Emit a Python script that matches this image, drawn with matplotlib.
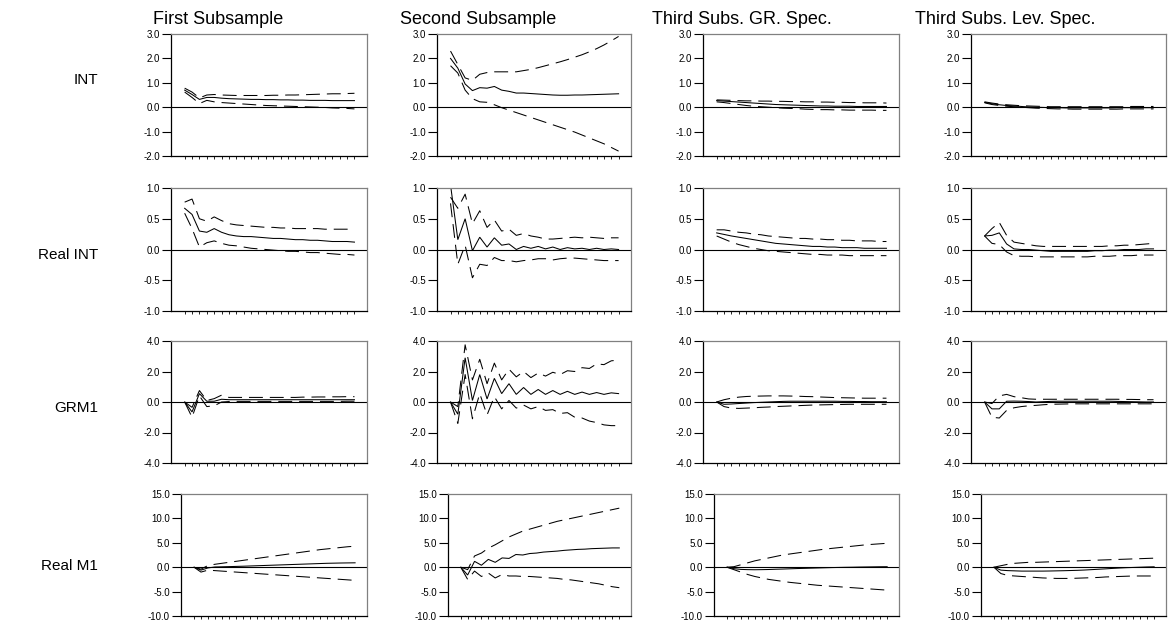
import matplotlib
matplotlib.use("Agg")
import matplotlib.pyplot as plt
import numpy as np

plt.rcParams['font.family'] = ['Liberation Sans', 'DejaVu Sans']
plt.rcParams['lines.scale_dashes'] = False

horizon = list(range(1, 25))
col_titles = ["First Subsample", "Second Subsample", "Third Subs. GR. Spec.", "Third Subs. Lev. Spec."]
row_labels = ["INT", "Real INT", "GRM1", "Real M1"]
row_yticks = [[-2.0, -1.0, 0.0, 1.0, 2.0, 3.0],
              [-1.0, -0.5, 0.0, 0.5, 1.0],
              [-4.0, -2.0, 0.0, 2.0, 4.0],
              [-10.0, -5.0, 0.0, 5.0, 10.0, 15.0]]

# ---- INT ----
int_first_mid = [0.70, 0.52, 0.32, 0.40, 0.40, 0.37, 0.35, 0.34, 0.33, 0.32, 0.32, 0.31, 0.31, 0.30, 0.30, 0.29, 0.29, 0.28, 0.28, 0.28, 0.27, 0.27, 0.27, 0.27]
int_first_up = [0.78, 0.62, 0.38, 0.50, 0.52, 0.50, 0.49, 0.48, 0.48, 0.48, 0.48, 0.48, 0.49, 0.49, 0.50, 0.50, 0.51, 0.52, 0.53, 0.54, 0.55, 0.55, 0.56, 0.57]
int_first_lo = [0.62, 0.40, 0.15, 0.28, 0.22, 0.19, 0.17, 0.15, 0.13, 0.11, 0.09, 0.07, 0.06, 0.05, 0.04, 0.03, 0.02, 0.01, 0.00, -0.01, -0.03, -0.04, -0.05, -0.07]

int_second_mid = [2.0, 1.6, 0.95, 0.68, 0.80, 0.78, 0.85, 0.70, 0.65, 0.58, 0.58, 0.56, 0.54, 0.52, 0.50, 0.49, 0.49, 0.50, 0.50, 0.51, 0.52, 0.53, 0.54, 0.55]
int_second_up = [2.3, 1.75, 1.2, 1.1, 1.35, 1.42, 1.45, 1.45, 1.45, 1.45, 1.5, 1.55, 1.62, 1.7, 1.78, 1.86, 1.95, 2.05, 2.15, 2.27, 2.4, 2.55, 2.72, 2.9]
int_second_lo = [1.7, 1.4, 0.7, 0.35, 0.22, 0.2, 0.1, -0.02, -0.12, -0.22, -0.32, -0.42, -0.52, -0.62, -0.72, -0.82, -0.92, -1.02, -1.14, -1.26, -1.38, -1.5, -1.65, -1.8]

int_gr_mid = [0.27, 0.25, 0.23, 0.21, 0.19, 0.17, 0.15, 0.13, 0.11, 0.10, 0.09, 0.08, 0.07, 0.06, 0.05, 0.05, 0.04, 0.04, 0.04, 0.03, 0.03, 0.03, 0.03, 0.03]
int_gr_up = [0.30, 0.29, 0.28, 0.27, 0.26, 0.26, 0.25, 0.25, 0.24, 0.24, 0.23, 0.23, 0.22, 0.22, 0.21, 0.21, 0.20, 0.20, 0.19, 0.19, 0.18, 0.18, 0.18, 0.17]
int_gr_lo = [0.22, 0.19, 0.15, 0.11, 0.07, 0.04, 0.02, 0.00, -0.02, -0.04, -0.05, -0.06, -0.08, -0.09, -0.10, -0.10, -0.11, -0.11, -0.12, -0.12, -0.12, -0.12, -0.13, -0.13]

int_lev_mid = [0.20, 0.14, 0.10, 0.07, 0.05, 0.03, 0.01, 0.00, -0.01, -0.02, -0.02, -0.03, -0.03, -0.03, -0.03, -0.03, -0.03, -0.03, -0.02, -0.02, -0.02, -0.02, -0.02, -0.02]
int_lev_up = [0.22, 0.17, 0.13, 0.10, 0.08, 0.06, 0.05, 0.04, 0.03, 0.02, 0.02, 0.02, 0.02, 0.02, 0.02, 0.02, 0.02, 0.02, 0.02, 0.02, 0.03, 0.03, 0.03, 0.03]
int_lev_lo = [0.18, 0.11, 0.07, 0.04, 0.02, 0.00, -0.02, -0.04, -0.05, -0.06, -0.07, -0.07, -0.08, -0.08, -0.08, -0.08, -0.08, -0.08, -0.08, -0.07, -0.07, -0.07, -0.07, -0.07]

# ---- Real INT ----
rint_first_mid = [0.67, 0.57, 0.30, 0.28, 0.34, 0.28, 0.24, 0.22, 0.21, 0.21, 0.20, 0.19, 0.18, 0.18, 0.17, 0.16, 0.16, 0.15, 0.15, 0.14, 0.13, 0.13, 0.13, 0.12]
rint_first_up = [0.77, 0.82, 0.50, 0.46, 0.53, 0.47, 0.42, 0.40, 0.39, 0.38, 0.37, 0.36, 0.36, 0.35, 0.35, 0.34, 0.34, 0.34, 0.34, 0.33, 0.33, 0.33, 0.33, 0.33]
rint_first_lo = [0.59, 0.34, 0.04, 0.11, 0.14, 0.10, 0.07, 0.06, 0.04, 0.02, 0.01, 0.00, -0.01, -0.02, -0.03, -0.03, -0.04, -0.05, -0.05, -0.06, -0.07, -0.08, -0.08, -0.09]

rint_second_mid = [1.05, 0.16, 0.50, -0.02, 0.20, 0.04, 0.19, 0.07, 0.09, 0.00, 0.05, 0.02, 0.05, 0.01, 0.04, 0.00, 0.03, 0.01, 0.02, 0.00, 0.02, 0.00, 0.01, 0.00]
rint_second_up = [0.85, 0.67, 0.90, 0.42, 0.63, 0.36, 0.48, 0.30, 0.33, 0.23, 0.26, 0.22, 0.20, 0.17, 0.17, 0.18, 0.19, 0.20, 0.19, 0.20, 0.19, 0.18, 0.19, 0.19]
rint_second_lo = [0.75, -0.24, 0.07, -0.46, -0.24, -0.26, -0.13, -0.18, -0.18, -0.20, -0.18, -0.17, -0.15, -0.15, -0.17, -0.15, -0.14, -0.14, -0.15, -0.16, -0.17, -0.18, -0.18, -0.18]

rint_gr_mid = [0.27, 0.245, 0.22, 0.20, 0.18, 0.16, 0.14, 0.12, 0.10, 0.09, 0.08, 0.07, 0.06, 0.05, 0.05, 0.04, 0.04, 0.03, 0.03, 0.03, 0.02, 0.02, 0.02, 0.02]
rint_gr_up = [0.32, 0.32, 0.30, 0.28, 0.27, 0.25, 0.24, 0.22, 0.21, 0.20, 0.19, 0.18, 0.18, 0.17, 0.17, 0.16, 0.16, 0.15, 0.15, 0.14, 0.14, 0.14, 0.13, 0.13]
rint_gr_lo = [0.22, 0.17, 0.12, 0.08, 0.05, 0.02, 0.00, -0.02, -0.03, -0.04, -0.05, -0.06, -0.07, -0.08, -0.08, -0.09, -0.09, -0.09, -0.10, -0.10, -0.10, -0.10, -0.10, -0.10]

rint_lev_mid = [0.22, 0.23, 0.27, 0.09, 0.01, 0.00, 0.00, -0.01, -0.02, -0.03, -0.03, -0.03, -0.03, -0.03, -0.03, -0.02, -0.02, -0.01, -0.01, 0.00, 0.00, 0.00, 0.01, 0.01]
rint_lev_up = [0.22, 0.34, 0.44, 0.23, 0.12, 0.10, 0.08, 0.06, 0.05, 0.05, 0.05, 0.05, 0.05, 0.05, 0.05, 0.05, 0.05, 0.06, 0.06, 0.07, 0.07, 0.08, 0.09, 0.10]
rint_lev_lo = [0.22, 0.10, 0.08, -0.04, -0.10, -0.11, -0.11, -0.12, -0.12, -0.12, -0.12, -0.12, -0.12, -0.12, -0.12, -0.11, -0.11, -0.11, -0.10, -0.10, -0.10, -0.09, -0.09, -0.09]

# ---- GRM1 ----
grm_first_mid = [0.0, -0.65, 0.55, 0.05, 0.05, 0.18, 0.15, 0.15, 0.15, 0.15, 0.15, 0.15, 0.15, 0.15, 0.15, 0.15, 0.15, 0.15, 0.15, 0.15, 0.15, 0.15, 0.15, 0.15]
grm_first_up = [0.0, -0.35, 0.75, 0.10, 0.22, 0.45, 0.30, 0.30, 0.30, 0.30, 0.30, 0.30, 0.30, 0.30, 0.30, 0.30, 0.32, 0.32, 0.33, 0.33, 0.34, 0.34, 0.35, 0.35]
grm_first_lo = [0.0, -1.0, 0.40, -0.30, -0.25, 0.00, 0.03, 0.04, 0.04, 0.04, 0.04, 0.04, 0.04, 0.04, 0.04, 0.04, 0.04, 0.04, 0.04, 0.04, 0.04, 0.04, 0.05, 0.05]

grm_second_mid = [0.0, -0.8, 2.9, 0.1, 1.8, 0.2, 1.55, 0.55, 1.2, 0.5, 0.95, 0.5, 0.82, 0.5, 0.75, 0.5, 0.7, 0.5, 0.65, 0.5, 0.62, 0.5, 0.6, 0.55]
grm_second_up = [0.0, -0.3, 3.75, 1.45, 2.8, 1.2, 2.55, 1.45, 2.15, 1.65, 2.0, 1.6, 1.9, 1.7, 1.95, 1.8, 2.05, 2.0, 2.25, 2.2, 2.5, 2.45, 2.7, 2.75]
grm_second_lo = [0.0, -1.4, 1.8, -1.1, 0.55, -0.85, 0.35, -0.45, 0.1, -0.4, -0.2, -0.45, -0.3, -0.55, -0.5, -0.75, -0.7, -1.0, -1.05, -1.25, -1.35, -1.5, -1.55, -1.55]

grm_gr_mid = [0.0, -0.15, -0.13, -0.10, -0.07, -0.04, -0.02, 0.00, 0.02, 0.04, 0.05, 0.05, 0.05, 0.05, 0.05, 0.05, 0.05, 0.04, 0.04, 0.03, 0.03, 0.02, 0.02, 0.02]
grm_gr_up = [0.0, 0.15, 0.25, 0.32, 0.36, 0.38, 0.39, 0.40, 0.40, 0.40, 0.39, 0.38, 0.36, 0.35, 0.33, 0.31, 0.29, 0.28, 0.27, 0.26, 0.25, 0.25, 0.25, 0.25]
grm_gr_lo = [0.0, -0.30, -0.40, -0.42, -0.40, -0.38, -0.35, -0.33, -0.30, -0.28, -0.26, -0.24, -0.22, -0.20, -0.19, -0.18, -0.17, -0.16, -0.15, -0.15, -0.15, -0.15, -0.15, -0.15]

grm_lev_mid = [0.0, -0.45, -0.45, 0.05, 0.06, 0.05, 0.03, 0.00, 0.02, 0.04, 0.05, 0.05, 0.05, 0.05, 0.05, 0.05, 0.05, 0.05, 0.04, 0.03, 0.02, 0.01, 0.00, 0.00]
grm_lev_up = [0.0, -0.10, 0.40, 0.50, 0.35, 0.28, 0.20, 0.18, 0.18, 0.18, 0.18, 0.18, 0.18, 0.18, 0.18, 0.18, 0.18, 0.18, 0.18, 0.17, 0.17, 0.16, 0.15, 0.15]
grm_lev_lo = [0.0, -1.00, -1.05, -0.55, -0.38, -0.30, -0.25, -0.22, -0.18, -0.15, -0.14, -0.13, -0.12, -0.12, -0.12, -0.12, -0.12, -0.12, -0.12, -0.12, -0.12, -0.12, -0.12, -0.12]

# ---- Real M1 ----
rm1_first_mid = [0.0, -0.6, -0.15, 0.05, 0.08, 0.12, 0.16, 0.20, 0.25, 0.30, 0.35, 0.40, 0.45, 0.50, 0.55, 0.60, 0.65, 0.70, 0.75, 0.80, 0.83, 0.86, 0.88, 0.90]
rm1_first_up = [0.0, -0.4, 0.35, 0.6, 0.8, 1.0, 1.2, 1.4, 1.6, 1.8, 2.0, 2.2, 2.4, 2.6, 2.8, 3.0, 3.2, 3.4, 3.6, 3.75, 3.9, 4.05, 4.2, 4.3]
rm1_first_lo = [0.0, -1.0, -0.6, -0.7, -0.8, -0.9, -1.0, -1.1, -1.2, -1.3, -1.4, -1.5, -1.6, -1.7, -1.8, -1.9, -2.0, -2.1, -2.2, -2.3, -2.4, -2.5, -2.6, -2.7]

rm1_second_mid = [0.0, -1.6, 1.2, 0.4, 1.6, 1.0, 1.9, 1.8, 2.6, 2.5, 2.8, 2.9, 3.1, 3.2, 3.3, 3.45, 3.55, 3.65, 3.7, 3.8, 3.85, 3.9, 3.95, 3.95]
rm1_second_up = [0.0, -0.5, 2.3, 2.9, 3.9, 4.6, 5.4, 6.2, 6.8, 7.4, 7.8, 8.2, 8.6, 9.0, 9.4, 9.7, 10.0, 10.3, 10.6, 10.9, 11.2, 11.5, 11.8, 12.1]
rm1_second_lo = [0.0, -2.5, -0.8, -1.9, -1.2, -2.2, -1.5, -1.8, -1.8, -1.9, -1.9, -2.0, -2.1, -2.2, -2.3, -2.5, -2.6, -2.8, -3.0, -3.2, -3.4, -3.7, -4.0, -4.2]

rm1_gr_mid = [0.0, -0.30, -0.45, -0.50, -0.52, -0.50, -0.47, -0.42, -0.38, -0.33, -0.28, -0.24, -0.20, -0.16, -0.12, -0.08, -0.05, -0.02, 0.00, 0.03, 0.05, 0.07, 0.09, 0.10]
rm1_gr_up = [0.0, 0.1, 0.5, 0.9, 1.3, 1.6, 1.9, 2.2, 2.5, 2.7, 2.9, 3.1, 3.3, 3.5, 3.7, 3.85, 4.0, 4.15, 4.3, 4.45, 4.6, 4.7, 4.8, 4.9]
rm1_gr_lo = [0.0, -0.5, -1.0, -1.5, -1.9, -2.2, -2.5, -2.7, -2.9, -3.1, -3.25, -3.4, -3.55, -3.7, -3.8, -3.9, -4.0, -4.1, -4.2, -4.3, -4.4, -4.5, -4.6, -4.7]

rm1_lev_mid = [0.0, -0.6, -0.7, -0.75, -0.8, -0.8, -0.8, -0.8, -0.78, -0.75, -0.72, -0.68, -0.64, -0.58, -0.5, -0.42, -0.34, -0.25, -0.17, -0.1, -0.05, 0.0, 0.05, 0.08]
rm1_lev_up = [0.0, 0.3, 0.6, 0.8, 0.9, 1.0, 1.0, 1.05, 1.1, 1.15, 1.2, 1.25, 1.3, 1.35, 1.4, 1.45, 1.5, 1.55, 1.6, 1.65, 1.7, 1.75, 1.8, 1.85]
rm1_lev_lo = [0.0, -1.3, -1.7, -1.8, -1.9, -2.0, -2.1, -2.2, -2.25, -2.3, -2.3, -2.3, -2.25, -2.2, -2.15, -2.1, -2.0, -1.95, -1.9, -1.85, -1.8, -1.8, -1.8, -1.8]

panels = [
    [(int_first_mid, int_first_up, int_first_lo), (int_second_mid, int_second_up, int_second_lo),
     (int_gr_mid, int_gr_up, int_gr_lo), (int_lev_mid, int_lev_up, int_lev_lo)],
    [(rint_first_mid, rint_first_up, rint_first_lo), (rint_second_mid, rint_second_up, rint_second_lo),
     (rint_gr_mid, rint_gr_up, rint_gr_lo), (rint_lev_mid, rint_lev_up, rint_lev_lo)],
    [(grm_first_mid, grm_first_up, grm_first_lo), (grm_second_mid, grm_second_up, grm_second_lo),
     (grm_gr_mid, grm_gr_up, grm_gr_lo), (grm_lev_mid, grm_lev_up, grm_lev_lo)],
    [(rm1_first_mid, rm1_first_up, rm1_first_lo), (rm1_second_mid, rm1_second_up, rm1_second_lo),
     (rm1_gr_mid, rm1_gr_up, rm1_gr_lo), (rm1_lev_mid, rm1_lev_up, rm1_lev_lo)],
]

W, H = 1170, 621
fig = plt.figure(figsize=(W / 100, H / 100), dpi=100)

row_tops = [34, 188, 341, 494]
row_bots = [156, 311, 463, 616]
col_lefts = [[171, 437, 703, 971], [171, 437, 703, 971], [171, 437, 703, 971], [181, 448, 714, 981]]
col_rights = [367, 631, 899, 1166]
title_x = [153, 400, 652, 915]
label_right = 98
label_y = [80, 255, 408, 566]

for r in range(4):
    for c in range(4):
        l = col_lefts[r][c]
        rt = col_rights[c]
        ax = fig.add_axes([l / W, 1 - row_bots[r] / H, (rt - l) / W, (row_bots[r] - row_tops[r]) / H])
        mid, up, lo = panels[r][c]
        ax.axhline(0, color='black', lw=0.8, zorder=1)
        ax.plot(horizon, mid, color='black', lw=0.75, solid_joinstyle='miter')
        ax.plot(horizon, up, color='black', lw=0.75, dashes=(10, 5))
        ax.plot(horizon, lo, color='black', lw=0.75, dashes=(10, 5))
        yt = row_yticks[r]
        ax.set_ylim(yt[0], yt[-1])
        ax.set_yticks(yt)
        ax.set_yticklabels(["%.1f" % v for v in yt])
        ax.set_xlim(-0.85, 25.7)
        ax.set_xticks(horizon)
        ax.set_xticklabels([])
        ax.tick_params(axis='y', length=6.5, width=0.8, pad=1.5, labelsize=7, direction='out')
        ax.tick_params(axis='x', length=2.5, width=0.6, direction='out')
        for s in ['left', 'bottom']:
            ax.spines[s].set_color('black')
            ax.spines[s].set_linewidth(0.9)
        for s in ['top', 'right']:
            ax.spines[s].set_color('#808080')
            ax.spines[s].set_linewidth(0.9)

for c in range(4):
    fig.text(title_x[c] / W, 1 - 20 / H, col_titles[c], fontsize=13, ha='left', va='center')

for r in range(4):
    fig.text(label_right / W, 1 - label_y[r] / H, row_labels[r], fontsize=11, ha='right', va='center')

fig.savefig("out.png", dpi=100)
